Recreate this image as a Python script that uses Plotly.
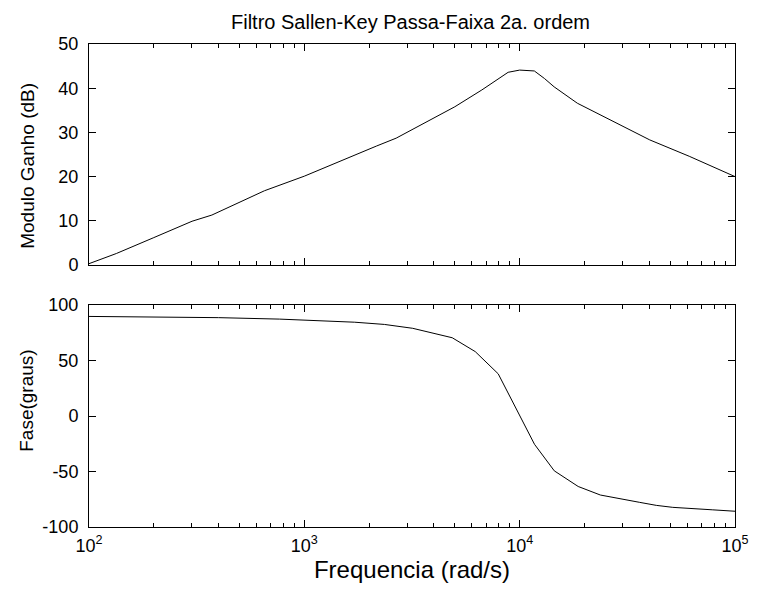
import plotly.graph_objects as go
from plotly.subplots import make_subplots

# Magnitude (dB)
mag_freq = [100, 134, 200, 301, 372, 653, 1000, 1167, 1880, 2160, 2670, 4075, 5000,
            6670, 8840, 10000, 11700, 13030, 14460, 18530, 24550, 40200, 61300, 100000]
mag_db = [0.3, 2.6, 6.2, 9.9, 11.3, 16.8, 20.1, 21.5, 25.7, 26.9, 28.7, 33.4, 35.8,
          39.6, 43.6, 44.1, 43.9, 42.2, 40.3, 36.6, 33.6, 28.3, 24.6, 20.0]

# Phase (degrees)
ph_freq = [100, 400, 766, 1210, 1714, 2354, 3186, 4863, 6220, 7950, 10000, 11720,
           14480, 18700, 23700, 27300, 36100, 43100, 51400, 78400, 100000]
ph_deg = [89.7, 88.6, 87.3, 86.0, 84.5, 82.5, 79.0, 70.5, 58.0, 38.0, 1.0, -25.5,
          -49.4, -63.5, -71.2, -73.6, -77.8, -80.5, -82.3, -84.5, -85.8]

x_ticks = [100, 1000, 10000, 100000]
x_ticktext = ["10<sup>2</sup>", "10<sup>3</sup>", "10<sup>4</sup>", "10<sup>5</sup>"]
mag_ticks = [0, 10, 20, 30, 40, 50]
mag_ticktext = ["0", "10", "20", "30", "40", "50"]
ph_ticks = [-100, -50, 0, 50, 100]
ph_ticktext = ["-100", "-50", "0", "50", "100"]

title_text = "Filtro Sallen-Key Passa-Faixa 2a. ordem"
xlabel = "Frequencia (rad/s)"
ylabel_top = "Modulo Ganho (dB)"
ylabel_bot = "Fase(graus)"

minor_vals = [m * 10 ** e for e in range(2, 5) for m in range(2, 10)]

FONT = "Liberation Sans, Arial"
OFF = 8  # page body margin
W, H = 761 - OFF, 590 - OFF
ML, MR, MT, MB = 89 - OFF, 18, 44 - OFF, 63
ph = H - MT - MB
pw = W - ML - MR
top_dom = [(527 - 265) / ph, 1.0]
bot_dom = [0.0, (527 - 305) / ph]

fig = make_subplots(rows=2, cols=1)
fig.add_trace(go.Scatter(x=mag_freq, y=mag_db, mode="lines",
                         line=dict(color="black", width=1), showlegend=False), row=1, col=1)
fig.add_trace(go.Scatter(x=ph_freq, y=ph_deg, mode="lines",
                         line=dict(color="black", width=1), showlegend=False), row=2, col=1)

axis_common = dict(showline=True, linecolor="black", linewidth=1, mirror="allticks",
                   ticks="inside", ticklen=7, tickcolor="black", showgrid=False,
                   zeroline=False, tickfont=dict(family=FONT, size=18, color="black"))

xcommon = dict(axis_common, type="log", range=[2, 5], tickvals=x_ticks,
               minor=dict(tickvals=minor_vals, ticks="inside", ticklen=4, tickcolor="black", showgrid=False))

fig.update_xaxes(xcommon, row=1, col=1)
fig.update_xaxes(xcommon, row=2, col=1)
fig.update_xaxes(showticklabels=False, row=1, col=1)
fig.update_xaxes(ticktext=x_ticktext, ticklabelstandoff=2,
                 title=dict(text=xlabel, font=dict(family=FONT, size=24, color="black"),
                            standoff=0), row=2, col=1)
fig.update_yaxes(axis_common, range=[0, 50], tickvals=mag_ticks, ticktext=mag_ticktext,
                 ticklabelstandoff=6, row=1, col=1)
fig.update_yaxes(axis_common, range=[-100, 100], tickvals=ph_ticks, ticktext=ph_ticktext,
                 ticklabelstandoff=6, row=2, col=1)

fig.layout.xaxis.domain = [0, 1]
fig.layout.xaxis2.domain = [0, 1]
fig.layout.yaxis.domain = top_dom
fig.layout.yaxis2.domain = bot_dom

fig.update_layout(
    width=W, height=H,
    margin=dict(l=ML, r=MR, t=MT, b=MB, pad=0),
    paper_bgcolor="white", plot_bgcolor="white",
    font=dict(family=FONT, color="black"),
    annotations=[
        dict(text=title_text, xref="paper", yref="paper", x=(414 - 89) / pw, y=1 + 22 / ph,
             xanchor="center", yanchor="middle", showarrow=False,
             font=dict(family=FONT, size=20, color="black")),
        dict(text=ylabel_top, xref="paper", yref="paper", x=-(89 - 26) / pw,
             y=(527 - 166) / ph, xanchor="center", yanchor="middle", textangle=-90,
             showarrow=False, font=dict(family=FONT, size=19, color="black")),
        dict(text=ylabel_bot, xref="paper", yref="paper", x=-(89 - 25) / pw,
             y=(527 - 401) / ph, xanchor="center", yanchor="middle", textangle=-90,
             showarrow=False, font=dict(family=FONT, size=19, color="black")),
    ],
)

fig.write_html("out.html")
